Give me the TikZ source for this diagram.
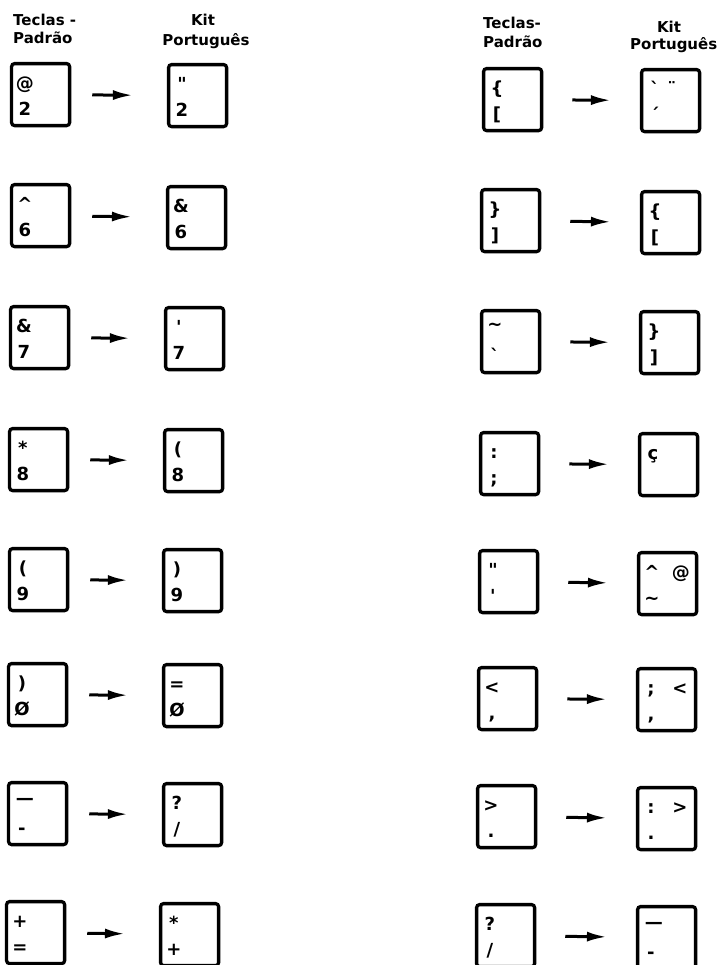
\documentclass[tikz,border=0pt]{standalone}
\usepackage{fontspec}
\setmainfont{DejaVu Sans}[Ligatures=TeXOff]
\usetikzlibrary{calc,arrows.meta}
\newcommand\hdrf{\fontsize{15bp}{17bp}\selectfont\bfseries}
\newcommand\glf{\fontsize{18bp}{20bp}\selectfont\bfseries}
\newcommand\dashg{\hspace{6bp}\raisebox{4bp}{—}}
\newcommand\keyb[6]{%
  \node[keybox] (#1) at (#2+30.6,#3+32.6) {};
  \if\relax\detokenize{#4}\relax\else
    \node[glyph] (#1t) at ($(#1.north west)+(15,28)$) {#4};\fi
  \if\relax\detokenize{#5}\relax\else
    \node[glyph] (#1b) at ($(#1.north west)+(15,54)$) {#5};\fi
  \if\relax\detokenize{#6}\relax\else
    \node[glyph] (#1r) at ($(#1.north west)+(44,28)$) {#6};\fi
}
\tikzset{
  keybox/.style={draw, line width=3.3bp, rounded corners=3bp,
    minimum width=58bp, minimum height=62bp, inner sep=0pt},
  glyph/.style={font=\glf, inner sep=0pt, anchor=base},
  hdr/.style={font=\hdrf, inner sep=0pt},
  arrow base/.style={line width=3bp, -{Latex[length=20bp,width=10bp]}},
  arrL/.style={arrow base, shorten <=21bp, shorten >=34bp},
  arrR/.style={arrow base, shorten <=29bp, shorten >=29bp},
}
\begin{document}
\begin{tikzpicture}[x=1bp,y=-1bp]
\useasboundingbox (0,0) rectangle (720,965);
% headers
\node[hdr, anchor=base west] (h1a) at (13,25) {Teclas -};
\node[hdr, anchor=base west] (h1b) at (13,43) {Padrão};
\node[hdr, anchor=base] (h2a) at (203,25) {Kit};
\node[hdr, anchor=base] (h2b) at (206,45) {Português};
\node[hdr, anchor=base west] (h3a) at (483,28) {Teclas-};
\node[hdr, anchor=base west] (h3b) at (483,47) {Padrão};
\node[hdr, anchor=base] (h4a) at (669,32) {Kit};
\node[hdr, anchor=base west] (h4b) at (630,49) {Português};
% left column, standard keys
\keyb{s1}{10}{62}{@}{2}{}
\keyb{s2}{10}{183}{\textasciicircum}{6}{}
\keyb{s3}{9}{305}{\&}{7}{}
\keyb{s4}{8}{427}{*}{8}{}
\keyb{s5}{8}{547}{(}{9}{}
\keyb{s6}{7}{662}{)}{Ø}{}
\keyb{s7}{7}{781}{\dashg}{-}{}
\keyb{s8}{5}{900}{+}{=}{}
% left column, kit
\keyb{k1}{167}{63}{"}{2}{}
\keyb{k2}{166}{185}{\&}{6}{}
\keyb{k3}{164}{306}{'}{7}{}
\keyb{k4}{163}{428}{(}{8}{}
\keyb{k5}{162}{548}{)}{9}{}
\keyb{k6}{162}{663}{=}{Ø}{}
\keyb{k7}{162}{782}{?}{/}{}
\keyb{k8}{159}{902}{*}{+}{}
% right column, standard keys
\keyb{S1}{482}{67}{\{}{[}{}
\keyb{S2}{480}{188}{\}}{]}{}
\keyb{S3}{480}{309}{\raisebox{6bp}{\textasciitilde}}{`}{}
\keyb{S4}{479}{431}{:}{;}{}
\keyb{S5}{478}{549}{"}{'}{}
\keyb{S6}{477}{666}{<}{,}{}
\keyb{S7}{476}{784}{>}{.}{}
\keyb{S8}{475}{903}{?}{/}{}
% right column, kit
\keyb{K1}{640}{68}{`}{´}{}
\node[glyph] (K1r) at ($(K1.north west)+(32,28)$) {¨};
\keyb{K2}{640}{190}{\{}{[}{}
\keyb{K3}{639}{310}{\}}{]}{}
\keyb{K4}{638}{432}{ç}{}{}
\keyb{K5}{637}{551}{\textasciicircum}{\textasciitilde}{@}
\keyb{K6}{636}{667}{;}{,}{<}
\keyb{K7}{636}{786}{:}{.}{>}
\keyb{K8}{636}{905}{\dashg}{-}{}
% arrows
\foreach \i in {1,...,8} {
  \draw[arrL] (s\i) -- (k\i);
  \draw[arrR] (S\i) -- (K\i);
}
\end{tikzpicture}
\end{document}
